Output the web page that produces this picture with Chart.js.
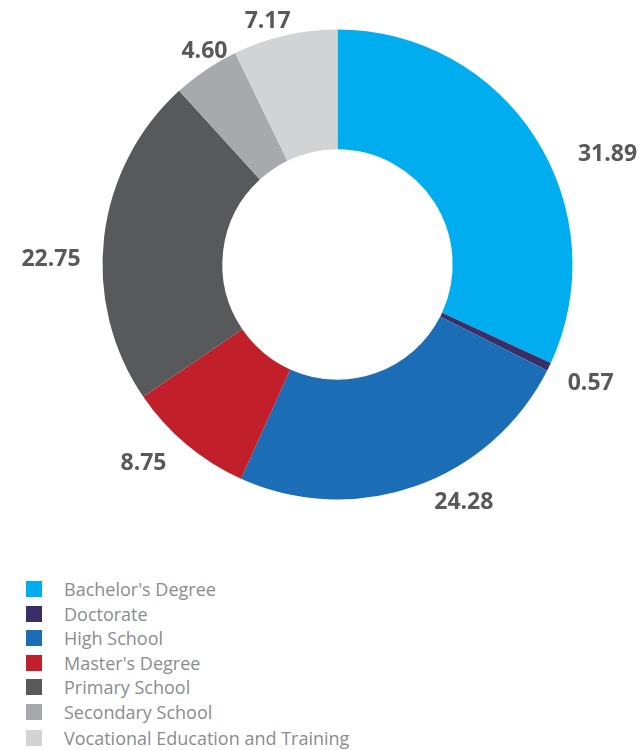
<!DOCTYPE html>
<html>
<head>
<meta charset="utf-8">
<script src="https://cdn.jsdelivr.net/npm/chart.js@4.4.1/dist/chart.umd.min.js"></script>
<style>
  body { margin: 0; background: #fff; font-family: "Open Sans", sans-serif; }
  #wrap { position: relative; width: 639px; height: 750px; }
  #chart { position: absolute; left: 0; top: 0; }
  #legend { position: absolute; left: 26px; top: 577px; margin: 0; padding: 0; list-style: none; }
  #legend li { height: 24.5px; display: flex; align-items: center; font-size: 18px; color: #8a8c8e; }
  #legend li:last-child { margin-top: 2px; }
  #legend span.box { width: 16px; height: 16px; margin-right: 22px; display: inline-block; }
</style>
</head>
<body>
<div id="wrap">
  <canvas id="chart" width="639" height="560"></canvas>
  <ul id="legend"></ul>
</div>
<script>
// education level shares (%)
const levels = [
  "Bachelor's Degree",
  "Doctorate",
  "High School",
  "Master's Degree",
  "Primary School",
  "Secondary School",
  "Vocational Education and Training"
];
const shares = [31.89, 0.57, 24.28, 8.75, 22.75, 4.60, 7.17];
const colors = ['#00aeef', '#3a2e68', '#1b6eb5', '#c1202a', '#58595b', '#a7a9ac', '#d1d3d4'];

// value labels sitting just outside the ring
// nudge = [degrees along the ring, extra px outward] so they don't crowd
const outsideLabels = {
  id: 'outsideLabels',
  afterDatasetsDraw(chart, args, opts) {
    const ctx = chart.ctx;
    const arcs = chart.getDatasetMeta(0).data;
    ctx.save();
    ctx.font = 'bold 23px "Open Sans"';
    ctx.fillStyle = '#58595b';
    ctx.textAlign = 'center';
    ctx.textBaseline = 'middle';
    arcs.forEach((arc, i) => {
      const n = opts.nudge[i] || [0, 0];
      const mid = (arc.startAngle + arc.endAngle) / 2 + n[0] * Math.PI / 180;
      const cx = Math.cos(mid), cy = Math.sin(mid);
      const txt = shares[i].toFixed(2);
      const w = ctx.measureText(txt).width;
      const r = arc.outerRadius + opts.pad + n[1];
      const x = arc.x + cx * r + cx * w / 2;
      const y = arc.y + cy * r + cy * 8;
      ctx.fillText(txt, x, y + 1);
    });
    ctx.restore();
  }
};

new Chart(document.getElementById('chart'), {
  type: 'doughnut',
  data: {
    labels: levels,
    datasets: [{
      data: shares,
      backgroundColor: colors,
      borderWidth: 0
    }]
  },
  options: {
    responsive: false,
    animation: false,
    cutout: '49%',
    layout: { padding: { left: 102.5, right: 66.5, top: 29.5, bottom: 60.5 } },
    plugins: {
      legend: { display: false },
      tooltip: { enabled: false },
      outsideLabels: {
        pad: 24,
        nudge: [[8.6, 7], [0.3, 0], [-6.8, -3], [2.9, 3], [-5.3, -2], [3.7, -19], [-2.2, -14]]
      }
    }
  },
  plugins: [outsideLabels]
});

const legend = document.getElementById('legend');
levels.forEach((name, i) => {
  const li = document.createElement('li');
  li.innerHTML = '<span class="box" style="background:' + colors[i] + '"></span>' + name;
  legend.appendChild(li);
});
</script>
</body>
</html>
